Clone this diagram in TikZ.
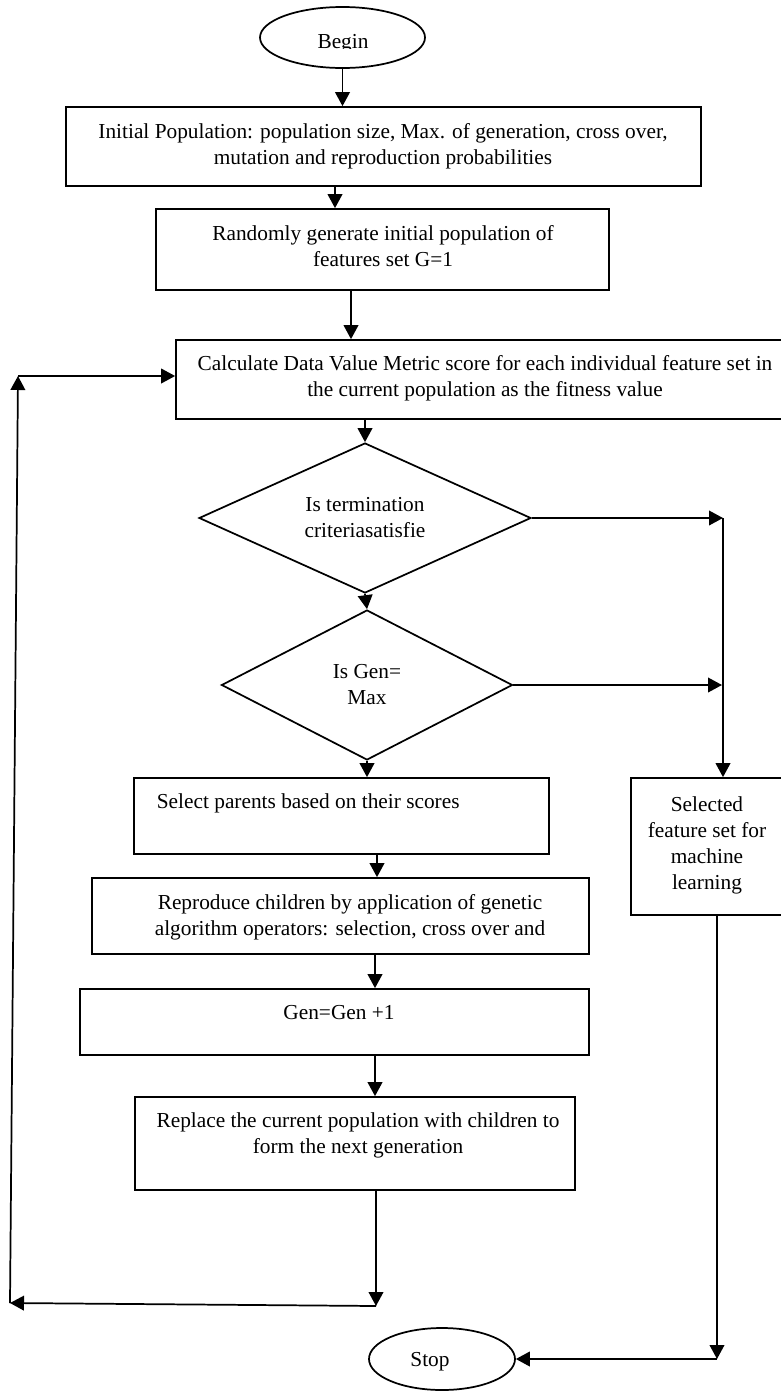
\documentclass[tikz,border=0pt]{standalone}
\usepackage{fontspec}
\setmainfont{Liberation Serif}
\usetikzlibrary{shapes.geometric,arrows.meta}
\begin{document}
\begin{tikzpicture}[x=0.75pt,y=-0.75pt,
  line width=1.3pt,
  font=\fontsize{16}{19.5}\selectfont,
  box/.style={draw,rectangle,inner sep=0pt},
  oval/.style={draw,ellipse,inner sep=0pt},
  dia/.style={draw,diamond,aspect=2.2,inner sep=0pt,align=center},
  txt/.style={inner sep=0pt,align=center},
  arr/.style={-{Triangle[length=10.5pt,width=11pt]}}]
\useasboundingbox (0,0) rectangle (781,1392);

% shapes
\node[oval,minimum width=123.75pt,minimum height=45.75pt] (begin) at (342.5,37.5) {};
\begin{scope}
\clip (260,0) rectangle (425,48);
\node[txt] (begintxt) at (343,44) {Begin};
\end{scope}

\node[box,minimum width=476.25pt,minimum height=59.25pt] (init) at (383.5,146.5) {};
\node[txt] (inittxt) at (383,146) {Initial Population: population size, Max. of generation, cross over,\\mutation and reproduction probabilities};

\node[box,minimum width=339.75pt,minimum height=60.75pt] (rand) at (382.5,249.5) {};
\node[txt] (randtxt) at (383,246.5) {Randomly generate initial population of\\features set G=1};

\node[box,minimum width=463.5pt,minimum height=59.25pt] (calc) at (485,379.5) {};
\node[txt] (calctxt) at (485,378) {Calculate Data Value Metric score for each individual feature set in\\the current population as the fitness value};

\node[dia,minimum width=249pt,minimum height=112.5pt] (term) at (365,518) {Is termination\\criteriasatisfie};
\node[dia,minimum width=218.25pt,minimum height=112.5pt] (gmax) at (367,685) {Is Gen=\\Max};

\node[box,minimum width=311.25pt,minimum height=57pt] (parents) at (341.5,816) {};
\node[txt,anchor=west] (parentstxt) at (156,803) {Select parents based on their scores};

\node[box,minimum width=114pt,minimum height=102.75pt] (chosen) at (707,846.5) {};
\node[txt] (chosentxt) at (707,845) {Selected\\feature set for\\machine\\learning};

\node[box,minimum width=372.75pt,minimum height=57pt] (repro) at (340.5,916) {};
\node[txt] (reprotxt) at (350,917) {Reproduce children by application of genetic\\algorithm operators: selection, cross over and};

\node[box,minimum width=381.75pt,minimum height=49.5pt] (gen) at (334.5,1022) {};
\node[txt] (gentxt) at (339,1013) {Gen=Gen +1};

\node[box,minimum width=330pt,minimum height=69.75pt] (repl) at (355,1143.5) {};
\node[txt] (repltxt) at (358,1135) {Replace the current population with children to\\form the next generation};

\node[oval,minimum width=109.5pt,minimum height=46.5pt] (stop) at (442,1359) {};
\node[txt] (stoptxt) at (430,1362) {Stop};

% helper coordinates
\coordinate (xa) at (335,0);
\coordinate (xb) at (351,0);
\coordinate (xc) at (377,0);
\coordinate (xd) at (375,0);
\coordinate (cB) at (376,1306);
\coordinate (cL) at (10,1303);
\coordinate (cT) at (18,376);
\coordinate (r1) at (723,518);
\coordinate (r2) at (722,685);
\coordinate (r3) at (717,1359);

% connectors
\draw[arr] (begin.south) -- (begin.south |- init.north);
\draw[arr] (init.south -| xa) -- (rand.north -| xa);
\draw[arr] (rand.south -| xb) -- (calc.north -| xb);
\draw[arr] (term.north |- calc.south) -- (term.north);
\draw[arr] (term.south) -- (gmax.north);
\draw[arr] (gmax.south) -- (gmax.south |- parents.north);
\draw[arr] (parents.south -| xc) -- (repro.north -| xc);
\draw[arr] (repro.south -| xd) -- (gen.north -| xd);
\draw[arr] (gen.south -| xd) -- (repl.north -| xd);
\draw[arr] (repl.south -| cB) -- (cB);
\draw[arr] (cB) -- (cL);
\draw[arr] (cL) -- (cT);
\draw[arr] (cT) -- (calc.west |- cT);

\draw[arr] (term.east) -- (r1);
\draw[arr] (gmax.east) -- (r2);
\draw[arr] (r1) -- (chosen.north -| r1);
\draw[arr] (chosen.south -| r3) -- (r3);
\draw[arr] (r3) -- (stop.east);
\end{tikzpicture}
\end{document}
